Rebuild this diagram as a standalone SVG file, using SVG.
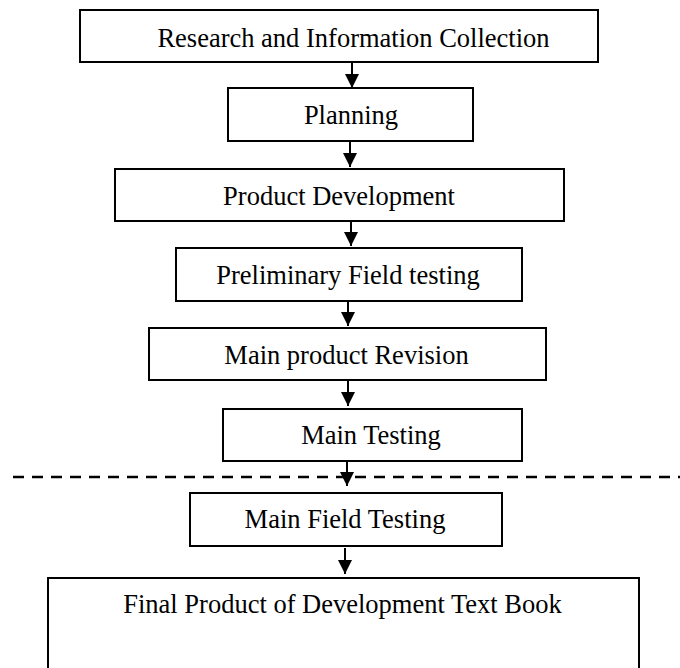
<svg xmlns="http://www.w3.org/2000/svg" width="680" height="668" viewBox="0 0 680 668">
<style>
.box{fill:#fff;stroke:#000;stroke-width:2}
.lbl{font-family:"Liberation Serif","Times New Roman",serif;font-size:26.5px;fill:#000;text-anchor:middle}
.conn{stroke:#000;stroke-width:2;fill:none}
.dash{stroke:#000;stroke-width:2.5;stroke-dasharray:11 8;fill:none}
</style>
<defs>
<marker id="ah" viewBox="0 0 14 14" refX="14" refY="7" markerWidth="14" markerHeight="14" markerUnits="userSpaceOnUse" orient="auto">
<path d="M0,0 L14,7 L0,14 z" fill="#000"/>
</marker>
</defs>
<rect width="680" height="668" fill="#fff"/>
<g id="n1"><rect class="box" x="80" y="10" width="518" height="52"/><text class="lbl" x="353.5" y="47">Research and Information Collection</text></g>
<g id="n2"><rect class="box" x="228" y="88" width="245" height="53"/><text class="lbl" x="351" y="124">Planning</text></g>
<g id="n3"><rect class="box" x="115" y="169" width="449" height="52"/><text class="lbl" x="339" y="205">Product Development</text></g>
<g id="n4"><rect class="box" x="176" y="248" width="346" height="53"/><text class="lbl" x="348" y="284">Preliminary Field testing</text></g>
<g id="n5"><rect class="box" x="149" y="328" width="397" height="52"/><text class="lbl" x="346.5" y="364">Main product Revision</text></g>
<g id="n6"><rect class="box" x="223" y="409" width="299" height="52"/><text class="lbl" x="371" y="444">Main Testing</text></g>
<g id="n7"><rect class="box" x="190" y="493" width="312" height="53"/><text class="lbl" x="345" y="528">Main Field Testing</text></g>
<g id="n8"><rect class="box" x="48" y="578" width="591" height="100"/><text class="lbl" x="342.5" y="613">Final Product of Development Text Book</text></g>
<g id="divider"><line class="dash" x1="13" y1="477" x2="680" y2="477"/></g>
<g id="connectors">
<line class="conn" x1="352" y1="62" x2="352" y2="88" marker-end="url(#ah)"/>
<line class="conn" x1="350" y1="141" x2="350" y2="167" marker-end="url(#ah)"/>
<line class="conn" x1="351" y1="221" x2="351" y2="246" marker-end="url(#ah)"/>
<line class="conn" x1="348" y1="301" x2="348" y2="326" marker-end="url(#ah)"/>
<line class="conn" x1="348" y1="380" x2="348" y2="406" marker-end="url(#ah)"/>
<line class="conn" x1="347" y1="461" x2="347" y2="486" marker-end="url(#ah)"/>
<line class="conn" x1="345" y1="548" x2="345" y2="574" marker-end="url(#ah)"/>
</g>
</svg>
